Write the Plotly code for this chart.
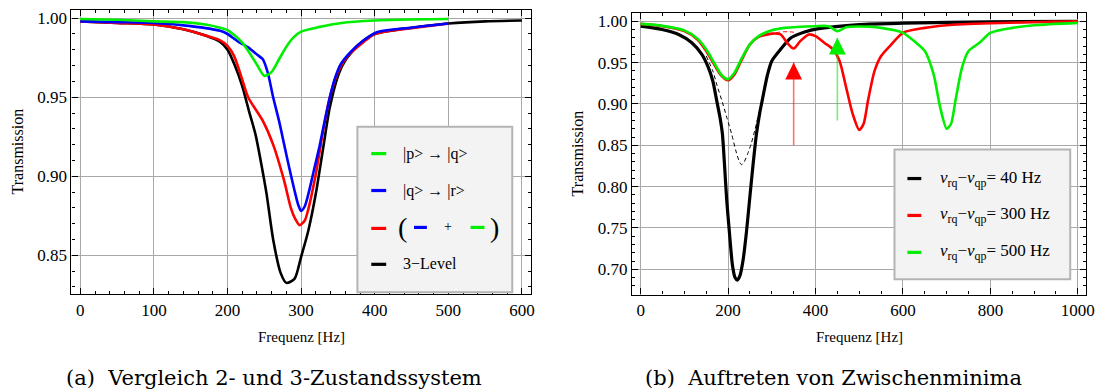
import plotly.graph_objects as go

W, H = 1107, 392
FONT = "'Liberation Serif', 'Times New Roman', 'DejaVu Serif', serif"
CAPFONT = "'DejaVu Serif', 'Liberation Serif', serif"

# ---------------- data (a) ----------------
fa_green = [0, 50, 100, 140, 170, 190, 200, 210, 220, 230, 240, 250, 260, 270, 280, 290, 300, 325, 355, 400, 450, 500]
ta_green = [0.9995, 0.999, 0.998, 0.9975, 0.996, 0.994, 0.9925, 0.989, 0.9845, 0.978, 0.9705, 0.9635, 0.966, 0.974,
            0.982, 0.988, 0.9915, 0.9945, 0.997, 0.9985, 0.9992, 0.9995]

fa_blue = [0, 50, 100, 150, 190, 200, 215, 228, 240, 248, 255, 262, 270, 277, 284, 291, 296, 300, 305, 310, 318, 325,
           332, 339, 346, 354, 368, 385, 402, 450, 500]
ta_blue = [0.998, 0.9975, 0.997, 0.995, 0.992, 0.990, 0.985, 0.9815, 0.977, 0.974, 0.965, 0.950, 0.935, 0.920, 0.905,
           0.891, 0.882, 0.878, 0.881, 0.889, 0.905, 0.919, 0.935, 0.950, 0.962, 0.971, 0.979, 0.986, 0.991, 0.994, 0.9966]

fa_red = [0, 50, 100, 140, 170, 190, 200, 209, 219, 228, 248, 262, 277, 286, 292, 298, 305, 310, 320, 330, 339, 351,
          363, 385, 400, 420, 450, 500]
ta_red = [0.998, 0.997, 0.996, 0.993, 0.989, 0.986, 0.9825, 0.976, 0.9626, 0.950, 0.935, 0.920, 0.897, 0.880, 0.873,
          0.869, 0.872, 0.8795, 0.9015, 0.929, 0.950, 0.967, 0.976, 0.985, 0.990, 0.992, 0.9937, 0.9966]

fa_black = [0, 50, 100, 140, 170, 190, 200, 210, 220, 229, 238, 245, 253, 262, 272, 280, 291, 300, 310, 320, 330, 339,
            351, 361, 380, 400, 450, 500, 550, 600]
ta_black = [0.998, 0.997, 0.996, 0.993, 0.989, 0.985, 0.980, 0.970, 0.957, 0.9415, 0.9265, 0.910, 0.889, 0.860, 0.839,
            0.8325, 0.835, 0.849, 0.866, 0.889, 0.918, 0.9436, 0.9647, 0.974, 0.984, 0.990, 0.994, 0.9966, 0.998, 0.9985]

# ---------------- data (b) ----------------
fb_black = [0, 49, 87, 117, 140, 155, 165, 174, 181, 187, 192, 197, 203, 210, 216, 221, 227, 234, 242, 249, 257, 265,
            272, 278, 290, 300, 320, 344, 375, 407, 500, 600, 800, 1000]
tb_black = [0.994, 0.990, 0.984, 0.974, 0.960, 0.944, 0.928, 0.904, 0.885, 0.864, 0.825, 0.783, 0.745, 0.705, 0.690,
            0.687, 0.692, 0.710, 0.745, 0.783, 0.826, 0.864, 0.888, 0.904, 0.935, 0.952, 0.966, 0.980, 0.987, 0.991,
            0.996, 0.9976, 0.9992, 1.0]

fb_dash = [150, 165, 175, 187, 198, 208, 218, 226, 231, 237, 245, 253, 262, 270, 278]
tb_dash = [0.958, 0.940, 0.922, 0.902, 0.882, 0.864, 0.843, 0.830, 0.8265, 0.830, 0.840, 0.852, 0.870, 0.888, 0.904]

fb_rdash = [310, 325, 340, 355]
tb_rdash = [0.9862, 0.9872, 0.9872, 0.9865]

fb_red = [0, 50, 100, 130, 150, 170, 185, 200, 215, 230, 250, 270, 300, 320, 335, 350, 365, 385, 400, 420, 440, 455,
          470, 485, 500, 510, 520, 535, 550, 570, 600, 650, 700, 800, 1000]
tb_red = [0.9968, 0.994, 0.988, 0.978, 0.964, 0.946, 0.934, 0.9286, 0.936, 0.952, 0.972, 0.981, 0.985, 0.984, 0.974,
          0.967, 0.976, 0.984, 0.982, 0.974, 0.966, 0.952, 0.920, 0.888, 0.8685, 0.876, 0.904, 0.940, 0.958, 0.970,
          0.986, 0.992, 0.9952, 0.9976, 1.0]

fb_green = [0, 50, 100, 130, 150, 170, 185, 200, 215, 230, 250, 270, 300, 330, 400, 430, 450, 470, 500, 550, 600, 630,
            650, 670, 685, 700, 710, 720, 735, 750, 775, 800, 850, 900, 1000]
tb_green = [0.9968, 0.9944, 0.989, 0.979, 0.966, 0.948, 0.935, 0.930, 0.938, 0.954, 0.972, 0.982, 0.989, 0.992, 0.994,
            0.994, 0.988, 0.9928, 0.9936, 0.992, 0.986, 0.974, 0.964, 0.936, 0.896, 0.870, 0.876, 0.904, 0.944, 0.964,
            0.974, 0.986, 0.992, 0.9952, 0.998]

arrow_red_x = [350, 350]
arrow_red_y = [0.85, 0.95]
arrow_green_x = [450, 450]
arrow_green_y = [0.88, 0.98]

xa_ticks = [0, 100, 200, 300, 400, 500, 600]
xb_ticks = [0, 200, 400, 600, 800, 1000]
ya_ticks = [0.85, 0.90, 0.95, 1.00]
yb_ticks = [0.70, 0.75, 0.80, 0.85, 0.90, 0.95, 1.00]

GREEN, BLUE, RED, BLACK = "#00ee00", "#0000ff", "#ff0000", "#000000"


def px(x):
    return x / W


def py(y):
    return 1 - y / H


fig = go.Figure()


def line(x, y, color, xa, ya, width=2.6, dash="solid"):
    fig.add_trace(go.Scatter(x=x, y=y, mode="lines", xaxis=xa, yaxis=ya, showlegend=False, hoverinfo="skip",
                             line=dict(color=color, width=width, shape="spline", smoothing=0.7, dash=dash)))


line(fa_black, ta_black, BLACK, "x", "y")
line(fa_red, ta_red, RED, "x", "y")
line(fa_blue, ta_blue, BLUE, "x", "y")
line(fa_green, ta_green, GREEN, "x", "y")

line(fb_black, tb_black, BLACK, "x2", "y2", width=3.2)
line(fb_red, tb_red, RED, "x2", "y2")
line(fb_green, tb_green, GREEN, "x2", "y2")
line(fb_dash, tb_dash, BLACK, "x2", "y2", width=1.0, dash="4px,3px")
line(fb_rdash, tb_rdash, RED, "x2", "y2", width=1.0, dash="4px,3px")

# arrow shafts (semi-transparent)
fig.add_trace(go.Scatter(x=arrow_red_x, y=arrow_red_y, mode="lines", xaxis="x2", yaxis="y2", showlegend=False,
                         hoverinfo="skip", line=dict(color="rgba(255,0,0,0.55)", width=1.6)))
fig.add_trace(go.Scatter(x=arrow_green_x, y=arrow_green_y, mode="lines", xaxis="x2", yaxis="y2", showlegend=False,
                         hoverinfo="skip", line=dict(color="rgba(0,230,0,0.55)", width=1.6)))

annotations = []
for ax_x, ax_y, col in [(arrow_red_x, arrow_red_y, RED), (arrow_green_x, arrow_green_y, GREEN)]:
    annotations.append(dict(x=ax_x[1], y=ax_y[1], xref="x2", yref="y2", ax=0, ay=18, axref="pixel", ayref="pixel",
                            text="", showarrow=True, arrowhead=2, arrowsize=2.4, arrowwidth=1.4, arrowcolor=col,
                            standoff=0, font=dict(size=10)))

common_axis = dict(showline=True, linecolor="black", linewidth=1.4, mirror="allticks", ticks="inside",
                   ticklen=6, tickwidth=1, tickcolor="black", showgrid=True, gridcolor="#a8a8a8", gridwidth=1.3,
                   zeroline=False, tickfont=dict(family=FONT, size=17, color="black"))

fig.update_layout(
    width=W, height=H, margin=dict(l=0, r=0, t=0, b=0), paper_bgcolor="white", plot_bgcolor="white",
    font=dict(family=FONT, color="black"),
    xaxis=dict(domain=[px(72), px(535)], range=[-12, 612.5], tickvals=xa_ticks, anchor="y",
               minor=dict(dtick=20, tick0=0, ticks="inside", ticklen=3, tickcolor="black", showgrid=False),
               **common_axis),
    yaxis=dict(domain=[py(294), py(9)], range=[0.8253, 1.0052], tickvals=ya_ticks, tickformat=".2f", anchor="x",
               minor=dict(dtick=0.01, tick0=0.8, ticks="inside", ticklen=3, tickcolor="black", showgrid=False),
               **common_axis),
    xaxis2=dict(domain=[px(636.7), px(1094.3)], range=[-19.5, 1019.5], tickvals=xb_ticks, anchor="y2",
                minor=dict(dtick=50, tick0=0, ticks="inside", ticklen=3, tickcolor="black", showgrid=False),
                **common_axis),
    yaxis2=dict(domain=[py(294.3), py(12)], range=[0.6695, 1.010], tickvals=yb_ticks, tickformat=".2f",
                anchor="x2",
                minor=dict(dtick=0.01, tick0=0.6, ticks="inside", ticklen=3, tickcolor="black", showgrid=False),
                **common_axis),
)

shapes = []


def text(x, y, s, size=16, angle=0, xanchor="center", color="black", family=FONT):
    annotations.append(dict(x=px(x), y=py(y), xref="paper", yref="paper", text=s, showarrow=False,
                            xanchor=xanchor, yanchor="middle", textangle=angle,
                            font=dict(family=family, size=size, color=color)))


def seg(x0, x1, y, color, width=3.2):
    shapes.append(dict(type="line", xref="paper", yref="paper", x0=px(x0), x1=px(x1), y0=py(y), y1=py(y),
                       line=dict(color=color, width=width)))


# axis titles
text(18, 151, "Transmission", angle=-90, size=16)
text(582, 153, "Transmission", angle=-90, size=16)
text(303.5, 337, "Frequenz [Hz]", size=15)
text(865.5, 337, "Frequenz [Hz]", size=15)

# captions
text(276, 378, "(a)  Vergleich 2- und 3-Zustandssystem", size=21, family=CAPFONT)
text(840, 378, "(b)  Auftreten von Zwischenminima", size=21, family=CAPFONT)

# legend (a)
shapes.append(dict(type="rect", xref="paper", yref="paper", x0=px(360), x1=px(516), y0=py(292), y1=py(126),
                   fillcolor="#f3f3f3", line=dict(color="#b4b4b4", width=2)))
leg_a_rows = [153, 190, 228, 264]
seg(374, 389, leg_a_rows[0], GREEN)
text(404, leg_a_rows[0], "|p> → |q>", size=16, xanchor="left")
seg(374, 389, leg_a_rows[1], BLUE)
text(404, leg_a_rows[1], "|q> → |r>", size=16, xanchor="left")
seg(374, 389, leg_a_rows[2], RED)
text(405, leg_a_rows[2] - 1, "(", size=28)
seg(417, 430, leg_a_rows[2] - 1, BLUE)
text(451, leg_a_rows[2] - 2, "+", size=14)
seg(474, 488, leg_a_rows[2] - 1, GREEN)
text(498, leg_a_rows[2] - 1, ")", size=28)
seg(374, 389, leg_a_rows[3], BLACK)
text(404, leg_a_rows[3] - 1, "3−Level", size=16, xanchor="left")

# legend (b)
shapes.append(dict(type="rect", xref="paper", yref="paper", x0=px(901), x1=px(1078), y0=py(279), y1=py(149),
                   fillcolor="#f3f3f3", line=dict(color="#b4b4b4", width=2)))
leg_b_rows = [178, 215, 252]
leg_b_labels = ["40", "300", "500"]
for row, lab, col in zip(leg_b_rows, leg_b_labels, [BLACK, RED, GREEN]):
    seg(914, 928, row, col)
    text(945, row, "<i>ν</i><sub>rq</sub>−<i>ν</i><sub>qp</sub>= " + lab + " Hz", size=17, xanchor="left")

fig.update_layout(shapes=shapes, annotations=annotations)
fig.write_html("out.html")
